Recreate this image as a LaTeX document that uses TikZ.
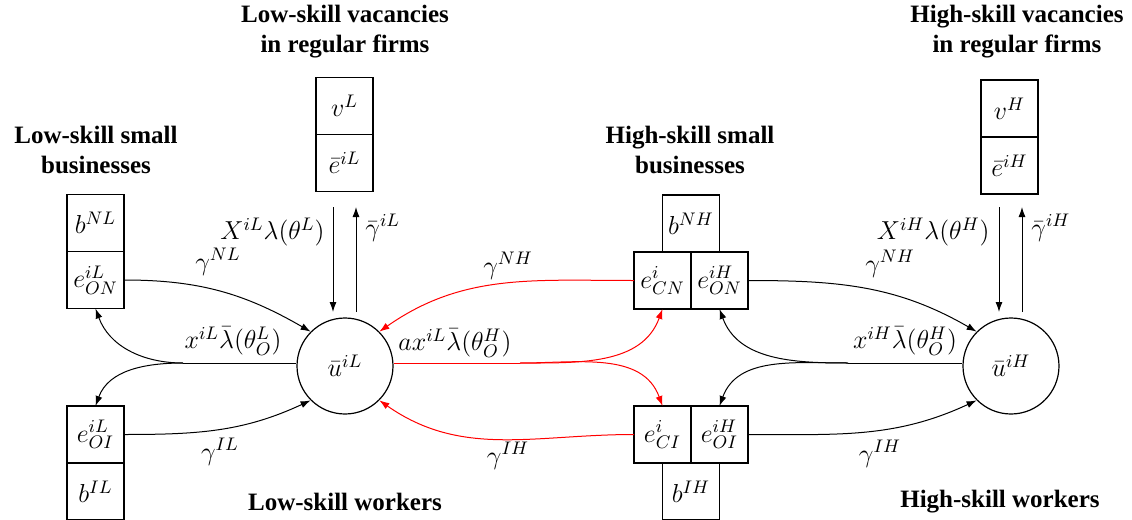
\documentclass[tikz,border=0pt]{standalone}
\usepackage{fix-cm}
\usepackage{fontspec}
\setmainfont{Liberation Serif}
\usetikzlibrary{arrows.meta,positioning}

\tikzset{
  cell/.style={draw, line width=0.6pt, minimum width=28.5pt, minimum height=28.5pt,
    inner sep=0pt, outer sep=0pt, font=\fontsize{13}{15}\selectfont},
  pool/.style={draw, circle, line width=0.6pt, minimum size=48pt, inner sep=0pt,
    font=\fontsize{13}{15}\selectfont},
  title/.style={font=\bfseries\fontsize{12.5}{15}\selectfont, align=center},
  lab/.style={font=\fontsize{13}{15}\selectfont, inner sep=0.5pt},
  flow/.style={line width=0.5pt, -{Latex[length=5pt,width=3.5pt]}},
  redflow/.style={flow, red},
}

\begin{document}
\begin{tikzpicture}[x=0.5pt,y=-0.5pt]
  \useasboundingbox (0,0) rectangle (1132,520);

  % 低技能部分
  \node[title] (tVL) at (345,32) {Low-skill vacancies\\in regular firms};
  \node[cell] (vL) at (344.5,106) {$v^{L}$};
  \node[cell, below=0pt of vL] (ebL) {$\bar{e}^{iL}$};
  \node[title] (tNL) at (96,150) {Low-skill small\\businesses};
  \node[cell] (bNL) at (95.5,223) {$b^{NL}$};
  \node[cell, below=0pt of bNL] (eONL) {$e^{iL}_{ON}$};
  \node[cell] (eOIL) at (95.5,434.5) {$e^{iL}_{OI}$};
  \node[cell, below=0pt of eOIL] (bIL) {$b^{IL}$};
  \node[pool] (uL) at (345,366) {$\bar{u}^{iL}$};
  \node[title] (tWL) at (345,502) {Low-skill workers};

  % 高技能小企业
  \node[title] (tNH) at (690,150) {High-skill small\\businesses};
  \node[cell] (eCN) at (662.5,280.5) {$e^{i}_{CN}$};
  \node[cell, right=0pt of eCN] (eONH) {$e^{iH}_{ON}$};
  \node[cell, above=0pt of eCN.north east] (bNH) {$b^{NH}$};
  \node[cell] (eCI) at (662.5,434.5) {$e^{i}_{CI}$};
  \node[cell, right=0pt of eCI] (eOIH) {$e^{iH}_{OI}$};
  \node[cell, below=0pt of eCI.south east] (bIH) {$b^{IH}$};

  % 高技能部分
  \node[title] (tVH) at (1017,32) {High-skill vacancies\\in regular firms};
  \node[cell] (vH) at (1009.5,108.5) {$v^{H}$};
  \node[cell, below=0pt of vH] (ebH) {$\bar{e}^{iH}$};
  \node[pool] (uH) at (1011,366) {$\bar{u}^{iH}$};
  \node[title] (tWH) at (1000,502) {High-skill workers};

  % 正规企业流动
  \coordinate (dnL1) at (333,207);
  \coordinate (dnL2) at (333,312);
  \coordinate (upL1) at (356,312);
  \coordinate (upL2) at (356,207);
  \draw[flow] (dnL1) -- (dnL2);
  \draw[flow] (upL1) -- (upL2);
  \node[lab, anchor=east] (XL) at (326,232) {$X^{iL}\lambda(\theta^{L})$};
  \node[lab, anchor=west] (gbL) at (364,228) {$\bar{\gamma}^{iL}$};

  \coordinate (dnH1) at (999,207);
  \coordinate (dnH2) at (999,312);
  \coordinate (upH1) at (1022,312);
  \coordinate (upH2) at (1022,207);
  \draw[flow] (dnH1) -- (dnH2);
  \draw[flow] (upH1) -- (upH2);
  \node[lab, anchor=east] (XH) at (991,232) {$X^{iH}\lambda(\theta^{H})$};
  \node[lab, anchor=west] (gbH) at (1030,228) {$\bar{\gamma}^{iH}$};

  % 低技能小企业流动
  \coordinate (splitL) at (183,363);
  \draw[flow] (eONL.east) to[out=0,in=150] (uL.north west);
  \draw[flow] (eOIL.east) to[out=0,in=205] (uL.south west);
  \draw[line width=0.5pt] (uL.west |- splitL) -- (splitL);
  \draw[flow] (splitL) to[out=180,in=-70] (eONL.south);
  \draw[flow] (splitL) to[out=180,in=70] (eOIL.north);
  \node[lab] (gNL) at (218,262) {$\gamma^{NL}$};
  \node[lab] (xL) at (233,341) {$x^{iL}\bar{\lambda}(\theta^{L}_{O})$};
  \node[lab] (gIL) at (220,452) {$\gamma^{IL}$};

  % 红色：低技能进入高技能小企业
  \coordinate (splitR) at (520,363);
  \draw[redflow] (eCN.west) to[out=180,in=35] (uL.north east);
  \draw[redflow] (eCI.west) to[out=180,in=-35] (uL.south east);
  \draw[red, line width=0.5pt] (uL.east |- splitR) -- (splitR);
  \draw[redflow] (splitR) to[out=0,in=-110] (eCN.south);
  \draw[redflow] (splitR) to[out=0,in=110] (eCI.north);
  \node[lab] (gNHr) at (508,266) {$\gamma^{NH}$};
  \node[lab] (axL) at (455,343) {$ax^{iL}\bar{\lambda}(\theta^{H}_{O})$};
  \node[lab] (gIHr) at (508,456) {$\gamma^{IH}$};

  % 高技能小企业流动
  \coordinate (splitH) at (848,363);
  \draw[flow] (eONH.east) to[out=0,in=150] (uH.north west);
  \draw[flow] (eOIH.east) to[out=0,in=205] (uH.south west);
  \draw[line width=0.5pt] (uH.west |- splitH) -- (splitH);
  \draw[flow] (splitH) to[out=180,in=-70] (eONH.south);
  \draw[flow] (splitH) to[out=180,in=70] (eOIH.north);
  \node[lab] (gNH) at (890,264) {$\gamma^{NH}$};
  \node[lab] (xH) at (905,341) {$x^{iH}\bar{\lambda}(\theta^{H}_{O})$};
  \node[lab] (gIH) at (880,454) {$\gamma^{IH}$};
\end{tikzpicture}
\end{document}
